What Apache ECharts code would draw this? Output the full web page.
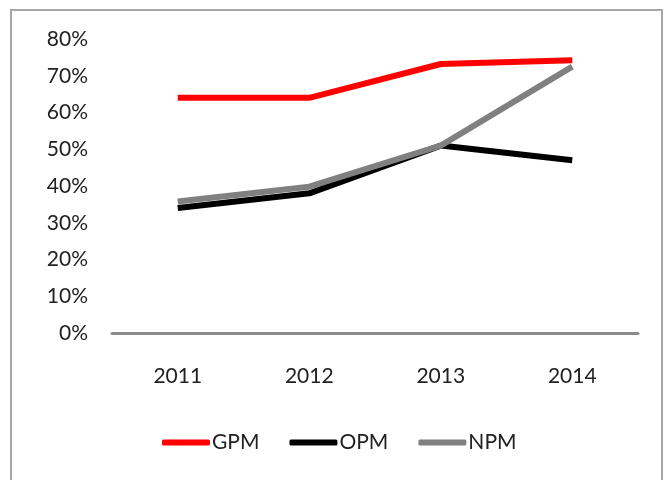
<!DOCTYPE html>
<html>
<head>
<meta charset="utf-8">
<script src="https://cdn.jsdelivr.net/npm/echarts@6/dist/echarts.min.js"></script>
<style>
  html, body { margin: 0; padding: 0; background: #fff; }
  #main { width: 667px; height: 480px; }
</style>
</head>
<body>
<div id="main"></div>
<script>
var years = ["2011", "2012", "2013", "2014"];
var gpm = [64, 64, 73.2, 74.2];
var opm = [34, 38, 51, 47];
var npm = [35.8, 39.8, 51, 72.5];
var yTicks = [0, 10, 20, 30, 40, 50, 60, 70, 80];

var myChart = echarts.init(document.getElementById("main"));
var fontFam = "Lato, 'Open Sans', sans-serif";

var option = {
  animation: false,
  graphic: [
    {
      type: "rect",
      shape: { x: 11, y: 10, width: 651, height: 480 },
      style: { fill: "none", stroke: "#a6a6a6", lineWidth: 2 },
    },
  ],
  grid: { left: 112, right: 29, top: 39, bottom: 147 },
  legend: {
    bottom: 22,
    left: 157,
    icon: "roundRect",
    itemWidth: 48,
    itemHeight: 6,
    itemGap: 30,
    textStyle: { fontFamily: fontFam, fontSize: 21, color: "#222", padding: [0, 0, 0, -3] },
    data: ["GPM", "OPM", "NPM"],
  },
  xAxis: {
    type: "category",
    data: years,
    boundaryGap: true,
    axisLine: { lineStyle: { color: "#8c8c8c", width: 3 } },
    axisTick: { show: false },
    axisLabel: { fontFamily: fontFam, fontSize: 21, color: "#222", margin: 33 },
  },
  yAxis: {
    type: "value",
    min: 0,
    max: 80,
    interval: 10,
    axisLine: { show: false },
    axisTick: { show: false },
    splitLine: { show: false },
    axisLabel: {
      fontFamily: fontFam,
      fontSize: 21,
      color: "#222",
      margin: 24,
      formatter: function (v) {
        return yTicks.indexOf(v) >= 0 ? v + "%" : "";
      },
    },
  },
  series: [
    {
      name: "GPM",
      type: "line",
      data: gpm,
      symbol: "none",
      itemStyle: { color: "#ff0000" },
      lineStyle: { color: "#ff0000", width: 6 },
    },
    {
      name: "OPM",
      type: "line",
      data: opm,
      symbol: "none",
      itemStyle: { color: "#000000" },
      lineStyle: { color: "#000000", width: 6 },
    },
    {
      name: "NPM",
      type: "line",
      data: npm,
      symbol: "none",
      itemStyle: { color: "#808080" },
      lineStyle: { color: "#808080", width: 6 },
    },
  ],
};

myChart.setOption(option);
</script>
</body>
</html>
